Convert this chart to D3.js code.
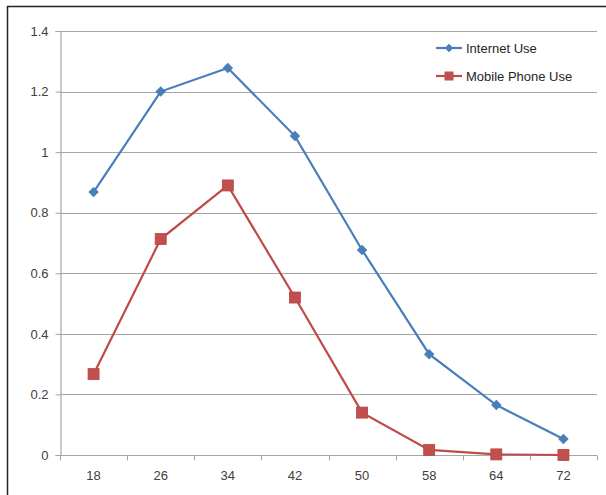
<!DOCTYPE html>
<html>
<head>
<meta charset="utf-8">
<script src="https://cdn.jsdelivr.net/npm/d3@7"></script>
<style>
  body { margin: 0; background: #fff; }
</style>
</head>
<body>
<div id="chart"></div>
<script>
const ages = ["18", "26", "34", "42", "50", "58", "64", "72"];
const internetUse = [0.868, 1.20, 1.278, 1.053, 0.677, 0.333, 0.165, 0.053];
const mobileUse = [0.267, 0.713, 0.89, 0.52, 0.14, 0.017, 0.002, 0.0];
const yTicks = [0, 0.2, 0.4, 0.6, 0.8, 1, 1.2, 1.4];
const seriesNames = ["Internet Use", "Mobile Phone Use"];

const width = 606, height = 495;
const margin = { top: 31, right: 9, bottom: 40, left: 60 };

const svg = d3.select("#chart")
    .append("svg")
    .attr("width", width)
    .attr("height", height)
    .style("font-family", "'Liberation Sans', Arial, sans-serif");

// frame (only top and left edges are visible in the crop)
svg.append("line").attr("x1", 7).attr("x2", width).attr("y1", 6.5).attr("y2", 6.5)
    .attr("stroke", "#222").attr("stroke-width", 1.5);
svg.append("line").attr("x1", 7.5).attr("x2", 7.5).attr("y1", 6).attr("y2", height)
    .attr("stroke", "#222").attr("stroke-width", 1.5);

const x = d3.scaleBand()
    .domain(ages)
    .range([margin.left, width - margin.right]);

const y = d3.scaleLinear()
    .domain([0, 1.4])
    .range([height - margin.bottom, margin.top]);

// gridlines
svg.append("g")
    .selectAll("line")
    .data(yTicks.filter(d => d > 0))
    .enter()
    .append("line")
    .attr("x1", margin.left)
    .attr("x2", width - margin.right)
    .attr("y1", d => Math.round(y(d)) + 0.5)
    .attr("y2", d => Math.round(y(d)) + 0.5)
    .attr("stroke", "#a6a6a6")
    .attr("stroke-width", 1.2);

// y axis
const yAxis = svg.append("g")
    .attr("transform", `translate(${margin.left + 0.5},0)`)
    .call(d3.axisLeft(y).tickValues(yTicks).tickSize(5).tickPadding(7).tickFormat(d3.format("")));
yAxis.select(".domain").attr("stroke", "#a6a6a6").attr("stroke-width", 1.2);
yAxis.selectAll(".tick line").attr("stroke", "#a6a6a6");
yAxis.selectAll("text").style("font-size", "13px").attr("fill", "#404040");

// x axis with tick marks at category boundaries
const xAxisG = svg.append("g")
    .attr("transform", `translate(0,${Math.round(y(0)) + 0.5})`);
xAxisG.append("line")
    .attr("x1", margin.left).attr("x2", width - margin.right)
    .attr("stroke", "#a6a6a6").attr("stroke-width", 1.2);
const boundaries = ages.map(a => x(a)).concat([x(ages[ages.length - 1]) + x.bandwidth()]);
xAxisG.selectAll(".bt")
    .data(boundaries)
    .enter()
    .append("line")
    .attr("x1", d => Math.round(d) + 0.5).attr("x2", d => Math.round(d) + 0.5)
    .attr("y1", 0).attr("y2", 5)
    .attr("stroke", "#a6a6a6");
xAxisG.selectAll("text")
    .data(ages)
    .enter()
    .append("text")
    .attr("x", d => x(d) + x.bandwidth() / 2)
    .attr("y", 24)
    .attr("text-anchor", "middle")
    .style("font-size", "13px")
    .attr("fill", "#404040")
    .text(d => d);

const cx = d => x(d) + x.bandwidth() / 2;
const line = d3.line().x(d => cx(d[0])).y(d => y(d[1]));

// Internet Use
const internetPts = ages.map((a, i) => [a, internetUse[i]]);
svg.append("path")
    .datum(internetPts)
    .attr("d", line)
    .attr("fill", "none")
    .attr("stroke", "#4a7ebb")
    .attr("stroke-width", 2.2);
svg.selectAll(".diamond")
    .data(internetPts)
    .enter()
    .append("path")
    .attr("class", "diamond")
    .attr("d", d3.symbol(d3.symbolDiamond2, 70))
    .attr("transform", d => `translate(${cx(d[0])},${y(d[1])})`)
    .attr("fill", "#4a7ebb");

// Mobile Phone Use
const mobilePts = ages.map((a, i) => [a, mobileUse[i]]);
svg.append("path")
    .datum(mobilePts)
    .attr("d", line)
    .attr("fill", "none")
    .attr("stroke", "#be4b48")
    .attr("stroke-width", 2.2);
svg.selectAll(".sq")
    .data(mobilePts)
    .enter()
    .append("rect")
    .attr("class", "sq")
    .attr("x", d => cx(d[0]) - 5.5)
    .attr("y", d => y(d[1]) - 5.5)
    .attr("width", 11)
    .attr("height", 11)
    .attr("fill", "#c0504d")
    .attr("stroke", "#b54542")
    .attr("stroke-width", 0.8);

// legend
const legend = svg.append("g").attr("transform", "translate(436,48)");
const lg1 = legend.append("g");
lg1.append("line").attr("x1", 0).attr("x2", 26).attr("stroke", "#4a7ebb").attr("stroke-width", 2.2);
lg1.append("path").attr("d", d3.symbol(d3.symbolDiamond2, 45)).attr("transform", "translate(13,0)").attr("fill", "#4a7ebb");
lg1.append("text").attr("x", 30).attr("y", 4.5).style("font-size", "13px").attr("fill", "#262626").text(seriesNames[0]);

const lg2 = legend.append("g").attr("transform", "translate(0,28)");
lg2.append("line").attr("x1", 0).attr("x2", 26).attr("stroke", "#be4b48").attr("stroke-width", 2.2);
lg2.append("rect").attr("x", 8.5).attr("y", -4.5).attr("width", 9).attr("height", 9).attr("fill", "#c0504d");
lg2.append("text").attr("x", 30).attr("y", 4.5).style("font-size", "13px").attr("fill", "#262626").text(seriesNames[1]);
</script>
</body>
</html>
